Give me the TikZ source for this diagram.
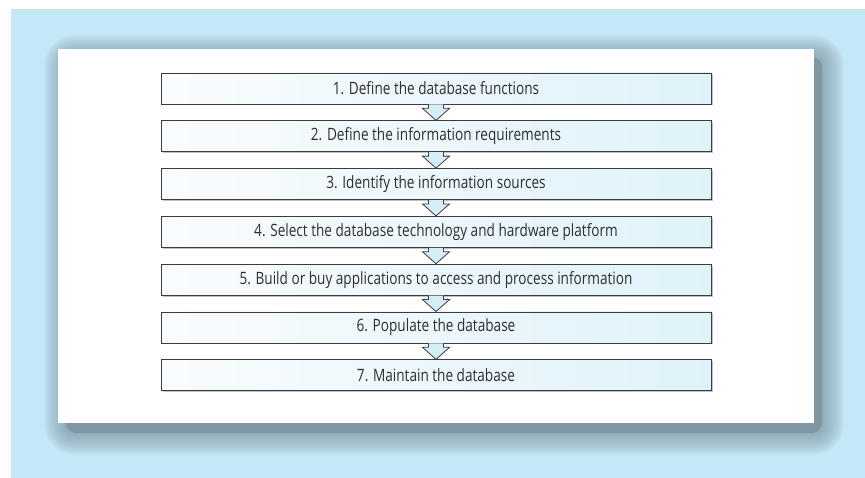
\documentclass[tikz,border=0pt]{standalone}
\usepackage{fontspec}
\setmainfont{Open Sans}[FakeStretch=0.8]
\usetikzlibrary{calc}
\definecolor{bgblue}{HTML}{C5E8F7}
\definecolor{shadowc}{HTML}{7F96A3}
\definecolor{boxleft}{HTML}{F9FCFE}
\definecolor{boxright}{HTML}{DFF2FA}
\definecolor{boxline}{HTML}{3C3C3C}
\definecolor{txt}{HTML}{2E2E2E}
\definecolor{arrowfill}{HTML}{D6ECF7}
\tikzset{
  stepbox/.style={draw=boxline, line width=0.9pt, left color=boxleft, right color=boxright,
    minimum width=550pt, minimum height=31pt, inner sep=0pt, text=txt,
    font=\fontsize{17}{19}\selectfont},
  boxshadow/.style={fill=black!40, opacity=0.6},
  blockarrow/.style={draw=boxline, line width=0.8pt, fill=arrowfill, line join=miter}
}
\begin{document}
\begin{tikzpicture}[x=1pt,y=-1pt]
\useasboundingbox (0,0) rectangle (865,478);
\fill[white] (0,0) rectangle (865,478);
\fill[bgblue] (11,9) rectangle (865,478);
% panel shadow
\foreach \i in {1,...,22}{
  \fill[shadowc, opacity=0.045, rounded corners=8+\i] (66-\i,57-\i) rectangle (822+\i,433+\i);
}
\fill[shadowc, rounded corners=10] (66,57) rectangle (822,433);
\fill[white] (58,49) rectangle (814,423);
% box shadows
\foreach \k in {0,...,6}{
  \fill[boxshadow] ($(161,73)+(1.5,{47.8*\k+1.5})$) rectangle ($(711,104)+(1.5,{47.8*\k+1.5})$);
}
% boxes
\node[stepbox] (b1) at (436,{73+15.5+47.8*0}) {1. Define the database functions};
\node[stepbox] (b2) at (436,{73+15.5+47.8*1}) {2. Define the information requirements};
\node[stepbox] (b3) at (436,{73+15.5+47.8*2}) {3. Identify the information sources};
\node[stepbox] (b4) at (436,{73+15.5+47.8*3}) {4. Select the database technology and hardware platform};
\node[stepbox] (b5) at (436,{73+15.5+47.8*4}) {5. Build or buy applications to access and process information};
\node[stepbox] (b6) at (436,{73+15.5+47.8*5}) {6. Populate the database};
\node[stepbox] (b7) at (436,{73+15.5+47.8*6}) {7. Maintain the database};
% arrows
\foreach \a/\b in {b1/b2,b2/b3,b3/b4,b4/b5,b5/b6,b6/b7}{
  \draw[blockarrow] ($(\a.south)+(-7.5,0)$) -- ($(\b.north)+(-7.5,-12)$) -- ($(\b.north)+(-13.5,-12)$)
    -- (\b.north) -- ($(\b.north)+(13.5,-12)$) -- ($(\b.north)+(7.5,-12)$) -- ($(\a.south)+(7.5,0)$);
}
\end{tikzpicture}
\end{document}
